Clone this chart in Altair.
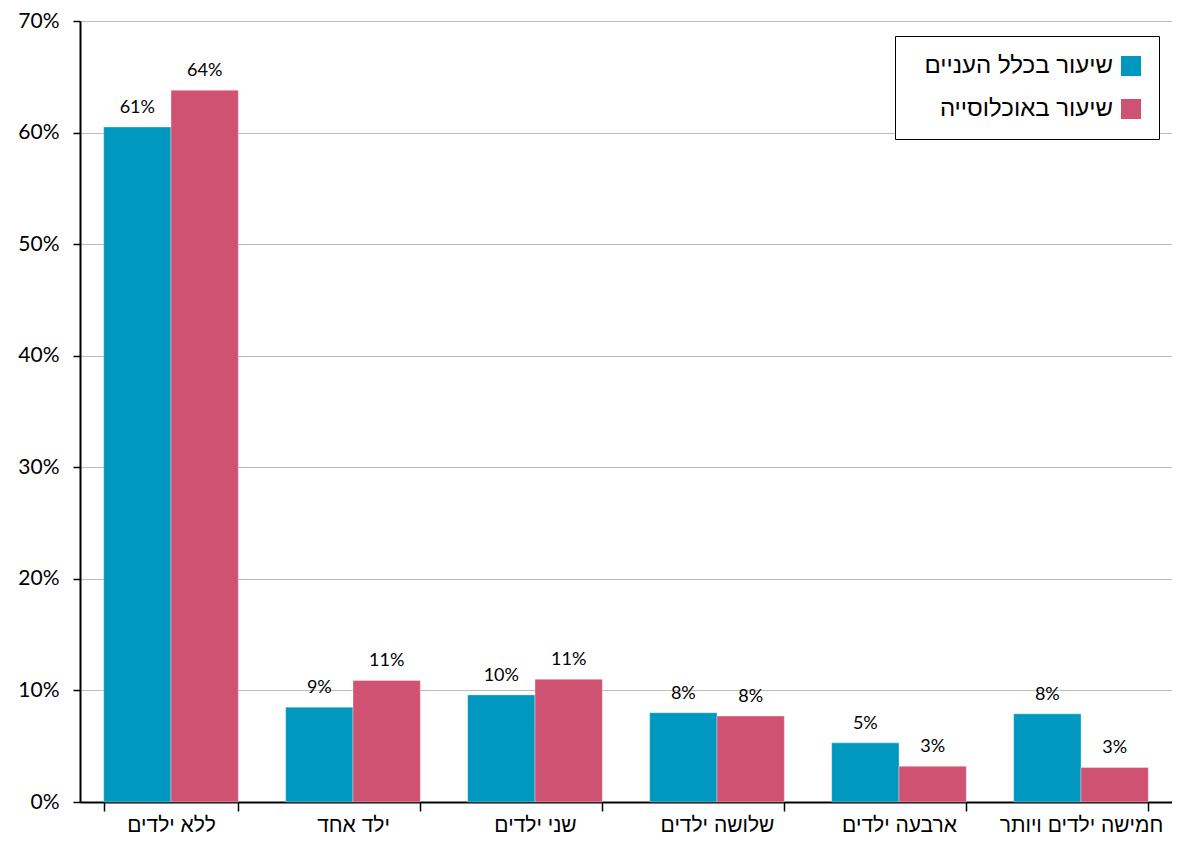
import altair as alt
import pandas as pd

categories = ["ללא ילדים", "ילד אחד", "שני ילדים", "שלושה ילדים", "ארבעה ילדים", "חמישה ילדים ויותר"]
series = ["שיעור בכלל העניים", "שיעור באוכלוסייה"]
poor_values = [0.605, 0.085, 0.096, 0.080, 0.053, 0.079]
pop_values = [0.638, 0.109, 0.110, 0.077, 0.032, 0.031]
poor_labels = ["61%", "9%", "10%", "8%", "5%", "8%"]
pop_labels = ["64%", "11%", "11%", "8%", "3%", "3%"]
colors = ["#0098BE", "#D05272"]

rows = []
for c, v, l in zip(categories, poor_values, poor_labels):
    rows.append({"cat": c, "series": series[0], "value": v, "label": l})
for c, v, l in zip(categories, pop_values, pop_labels):
    rows.append({"cat": c, "series": series[1], "value": v, "label": l})
df = pd.DataFrame(rows)

x_enc = alt.X("cat:N", sort=categories, title=None,
              scale=alt.Scale(paddingInner=0.26, paddingOuter=0.13),
              axis=alt.Axis(labelAngle=0, tickBand="extent", grid=False,
                            labelFont="Liberation Sans", labelFontSize=21,
                            labelColor="black", labelPadding=3, tickSize=9,
                            tickColor="black", tickWidth=1.5, domainColor="black",
                            domainWidth=2, labelLimit=300))
xoff = alt.XOffset("series:N", sort=series, scale=alt.Scale(domain=series))
y_enc = alt.Y("value:Q", title=None,
              scale=alt.Scale(domain=[0, 0.7], nice=False),
              axis=alt.Axis(values=[0, 0.1, 0.2, 0.3, 0.4, 0.5, 0.6, 0.7], format=".0%",
                            labelFont="Lato", labelFontSize=21, labelColor="black",
                            labelPadding=14, tickSize=7, tickColor="black", tickWidth=1.5,
                            domainColor="black", domainWidth=2,
                            gridColor="#BBBBBB", gridWidth=1.2))

bars = alt.Chart(df).mark_bar(stroke="white", strokeWidth=0.6, strokeOpacity=0.6).encode(
    x=x_enc, xOffset=xoff, y=y_enc,
    color=alt.Color("series:N", sort=series,
                    scale=alt.Scale(domain=series, range=colors),
                    legend=alt.Legend(title=None, orient="none", legendX=815, legendY=15,
                                      symbolType="square", symbolSize=400,
                                      symbolStrokeWidth=0, symbolOffset=206,
                                      labelAlign="right", labelOffset={"expr": "-30"},
                                      labelFont="Liberation Sans", labelFontSize=24,
                                      labelColor="black", labelLimit=400,
                                      rowPadding=19, padding=18,
                                      strokeColor="black", fillColor="white"))
)

texts = alt.Chart(df).mark_text(baseline="bottom", dy=-10, font="Lato", fontSize=18,
                                color="black").encode(
    x=alt.X("cat:N", sort=categories), xOffset=xoff, y="value:Q", text="label:N"
)

chart = alt.layer(bars, texts).properties(
    width=1092, height=781,
    padding={"left": 9, "top": 2, "right": 0, "bottom": 0}
).configure_view(
    stroke="black", strokeWidth=2
).configure(background="white")

chart.save("out.html", embed_options={"renderer": "svg", "actions": False})
